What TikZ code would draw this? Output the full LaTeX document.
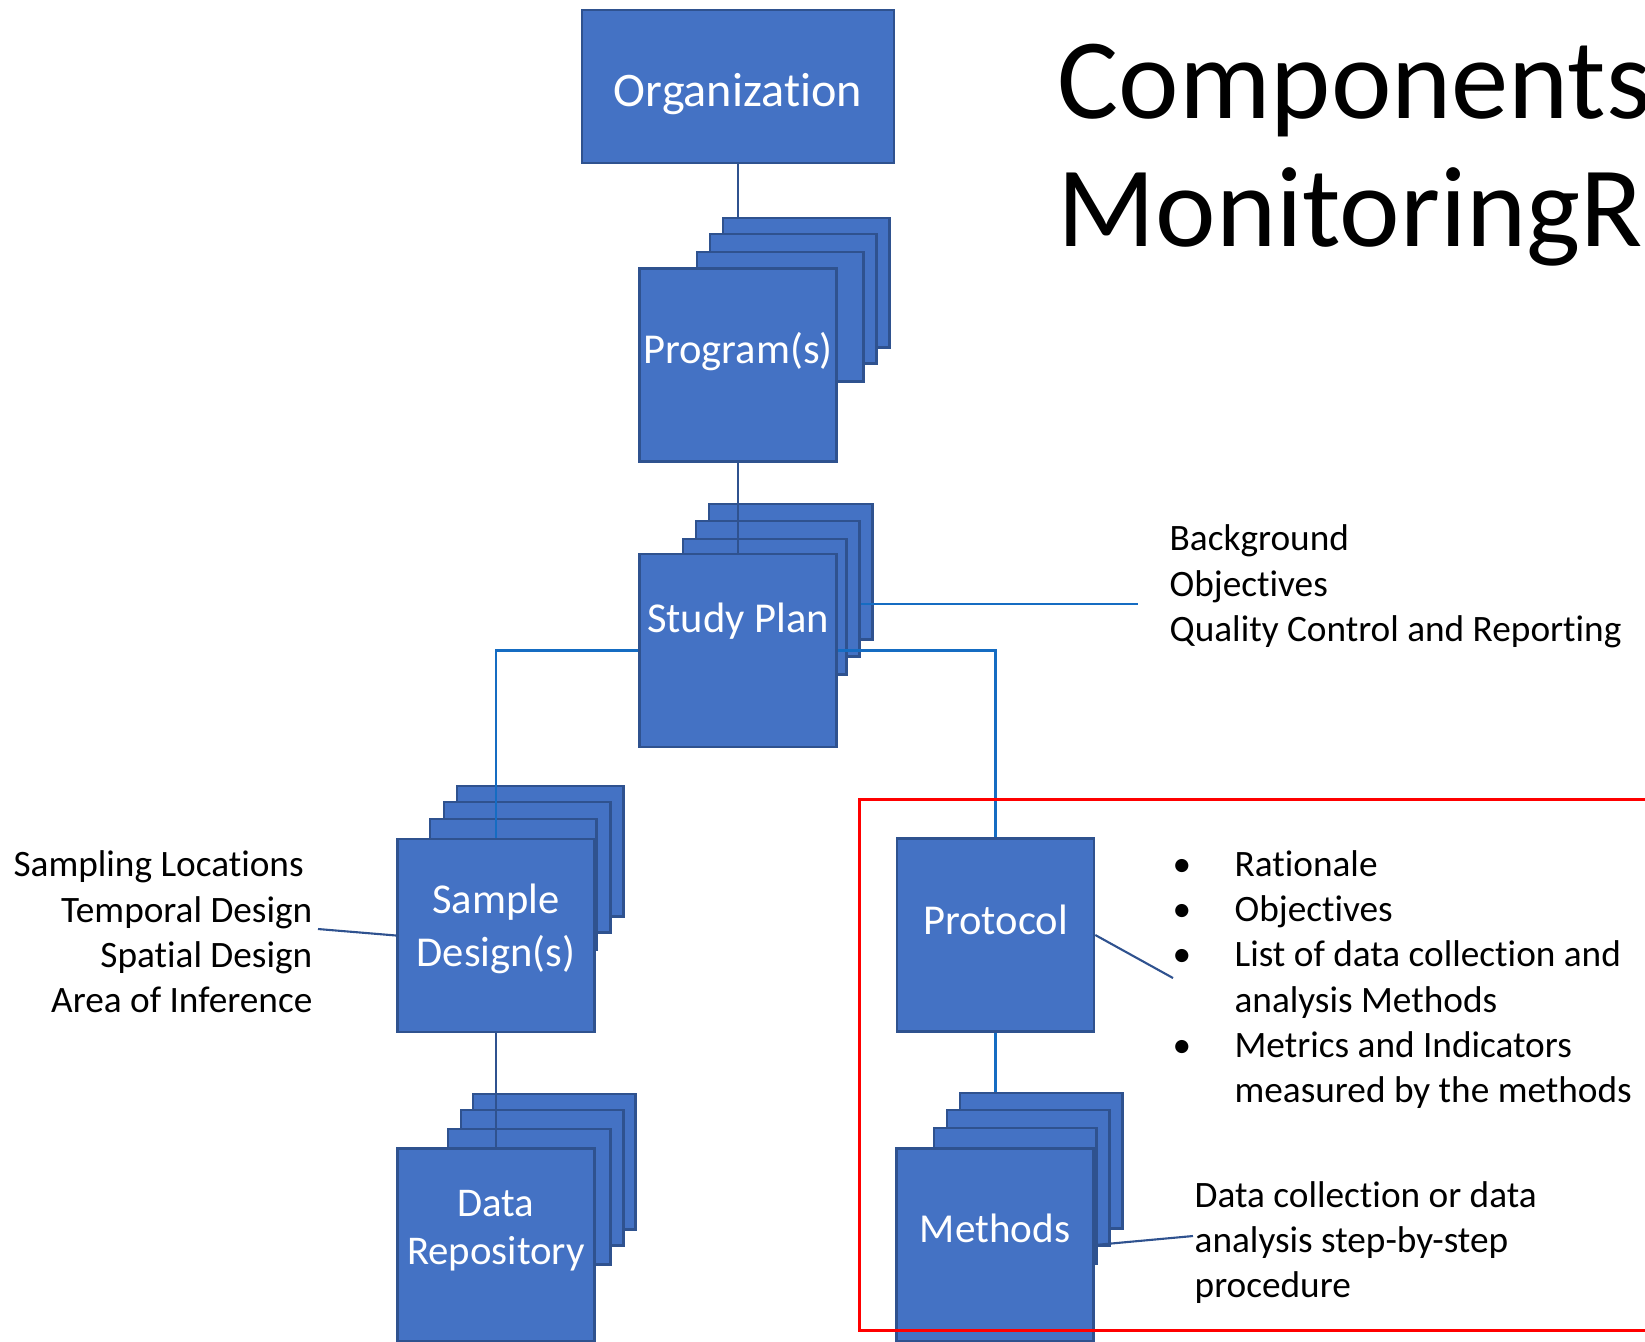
\documentclass[tikz,border=0pt]{standalone}
\usepackage{fontspec}
\setmainfont{Carlito}[Ligatures=NoCommon]
\definecolor{boxblue}{RGB}{68,114,196}
\definecolor{boxedge}{RGB}{47,82,143}
\definecolor{linkblue}{RGB}{21,108,194}
\definecolor{framered}{RGB}{255,0,0}
\tikzset{
  front/.style={draw=boxedge, fill=boxblue, line width=0.7pt, minimum width=1.97cm, minimum height=1.93cm, inner sep=0pt},
  sheet/.style={draw=boxedge, fill=boxblue, line width=0.7pt, minimum width=1.63cm, minimum height=1.35cm, inner sep=0pt, anchor=north west},
  boxtext/.style={text=white, font=\fontsize{12.1}{15}\selectfont, inner sep=0pt, align=center, anchor=base},
  notes/.style={font=\fontsize{10.6}{12.8}\selectfont, inner sep=0pt, align=left, anchor=base west},
  darklink/.style={boxedge, line width=0.6pt},
  lightlink/.style={linkblue, line width=0.6pt}
}

\begin{document}
\begin{tikzpicture}[x=0.01cm, y=-0.01cm]
  \clip (0,0) rectangle (1645,1341);

  % Title (runs off the right edge)
  \node[font=\fontsize{32.6}{36.7}\selectfont, inner sep=0pt, anchor=base west] (title1) at (1057,118) {Components};
  \node[font=\fontsize{32.6}{36.7}\selectfont, inner sep=0pt, anchor=base west] (title2) at (1057,246) {MonitoringR};

  % Organization
  \node[front, minimum width=3.12cm, minimum height=1.53cm] (org) at (738,86.5) {};
  \node[boxtext, font=\fontsize{13.7}{16}\selectfont] (orgtext) at (738,106) {Organization};

  % Program(s) stack
  \node[sheet, minimum width=1.66cm, minimum height=1.29cm] (prog4) at (722,217) {};
  \node[sheet, minimum width=1.66cm, minimum height=1.29cm] (prog3) at (709,233) {};
  \node[sheet, minimum width=1.66cm, minimum height=1.29cm] (prog2) at (696,251) {};
  \node[front] (prog) at (738,365) {};
  \node[boxtext] (progtext) at (738,363) {Program(s)};
  \draw[darklink] (org.south) -- (org.south |- prog4.north);

  % Study Plan stack
  \node[sheet] (study4) at (708,503) {};
  \node[sheet] (study3) at (695,520) {};
  \node[sheet] (study2) at (682,538) {};
  \node[front] (study) at (738,650.5) {};
  \node[boxtext] (studytext) at (738,632) {Study Plan};
  \draw[darklink] (prog.south) -- (study.north);

  % Sample Design(s) stack
  \node[sheet, minimum width=1.66cm, minimum height=1.30cm] (sample4) at (456,785) {};
  \node[sheet, minimum width=1.66cm, minimum height=1.30cm] (sample3) at (443,801) {};
  \node[sheet, minimum width=1.66cm, minimum height=1.30cm] (sample2) at (429,818) {};
  \node[front] (sample) at (496,935.5) {};
  \node[boxtext] (sampletext) at (496,966) {Sample\\Design(s)};

  % Data Repository stack
  \node[sheet, minimum width=1.62cm] (repo4) at (472,1093) {};
  \node[sheet, minimum width=1.62cm] (repo3) at (460,1109) {};
  \node[sheet, minimum width=1.62cm] (repo2) at (447,1128) {};
  \node[front] (repo) at (496,1245) {};
  \node[boxtext, font=\fontsize{11.6}{13.4}\selectfont] (repotext) at (496,1264) {Data\\Repository};
  \draw[darklink] (sample.south) -- (repo.north);

  % Protocol
  \node[front] (protocol) at (995.5,935) {};
  \node[boxtext] (prototext) at (995.5,934) {Protocol};

  % Methods stack
  \node[sheet, minimum width=1.62cm] (methods4) at (959,1092) {};
  \node[sheet, minimum width=1.62cm] (methods3) at (946,1109) {};
  \node[sheet, minimum width=1.62cm] (methods2) at (933,1127) {};
  \node[front] (methods) at (995,1245) {};
  \node[boxtext, font=\fontsize{11.7}{15}\selectfont] (methodstext) at (995,1242) {Methods};
  \draw[lightlink] (protocol.south) -- (protocol.south |- methods4.north);

  % Branches out of the study plan
  \draw[lightlink] (study.west) -| (sample.north);
  \draw[lightlink] (study.east) -| (protocol.north);

  % Side notes and their leader lines
  \coordinate (studylink) at (1138,604);
  \coordinate (samplelink) at (318,929);
  \coordinate (protolink) at (1173,978);
  \coordinate (methodlink) at (1193,1236);
  \draw[lightlink] (studylink -| study3.east) -- (studylink);
  \draw[darklink] (samplelink) -- (sample.west);
  \draw[darklink] (protocol.east) -- (protolink);
  \draw[darklink] (methods.east) -- (methodlink);

  \node[notes] (studynotes) at (1169,641) {Background\\Objectives\\Quality Control and Reporting};
  \node[notes, align=right, anchor=base east] (samplenotes) at (313,1012) {Sampling Locations\kern.23em\\Temporal Design\\Spatial Design\\Area of Inference};
  \node[notes] (protonotes) at (1172,1102) {\makebox[17.6pt][l]{\textbullet}Rationale\\
    \makebox[17.6pt][l]{\textbullet}Objectives\\
    \makebox[17.6pt][l]{\textbullet}List of data collection and\\
    \hspace*{17.6pt}analysis Methods\\
    \makebox[17.6pt][l]{\textbullet}Metrics and Indicators\\
    \hspace*{17.6pt}measured by the methods};
  \node[notes] (methodnotes) at (1194,1297) {Data collection or data\\analysis step-by-step\\procedure};

  % Frame round the protocol part
  \draw[framered, line width=0.85pt] (859,799) rectangle (1700,1330);
\end{tikzpicture}
\end{document}
